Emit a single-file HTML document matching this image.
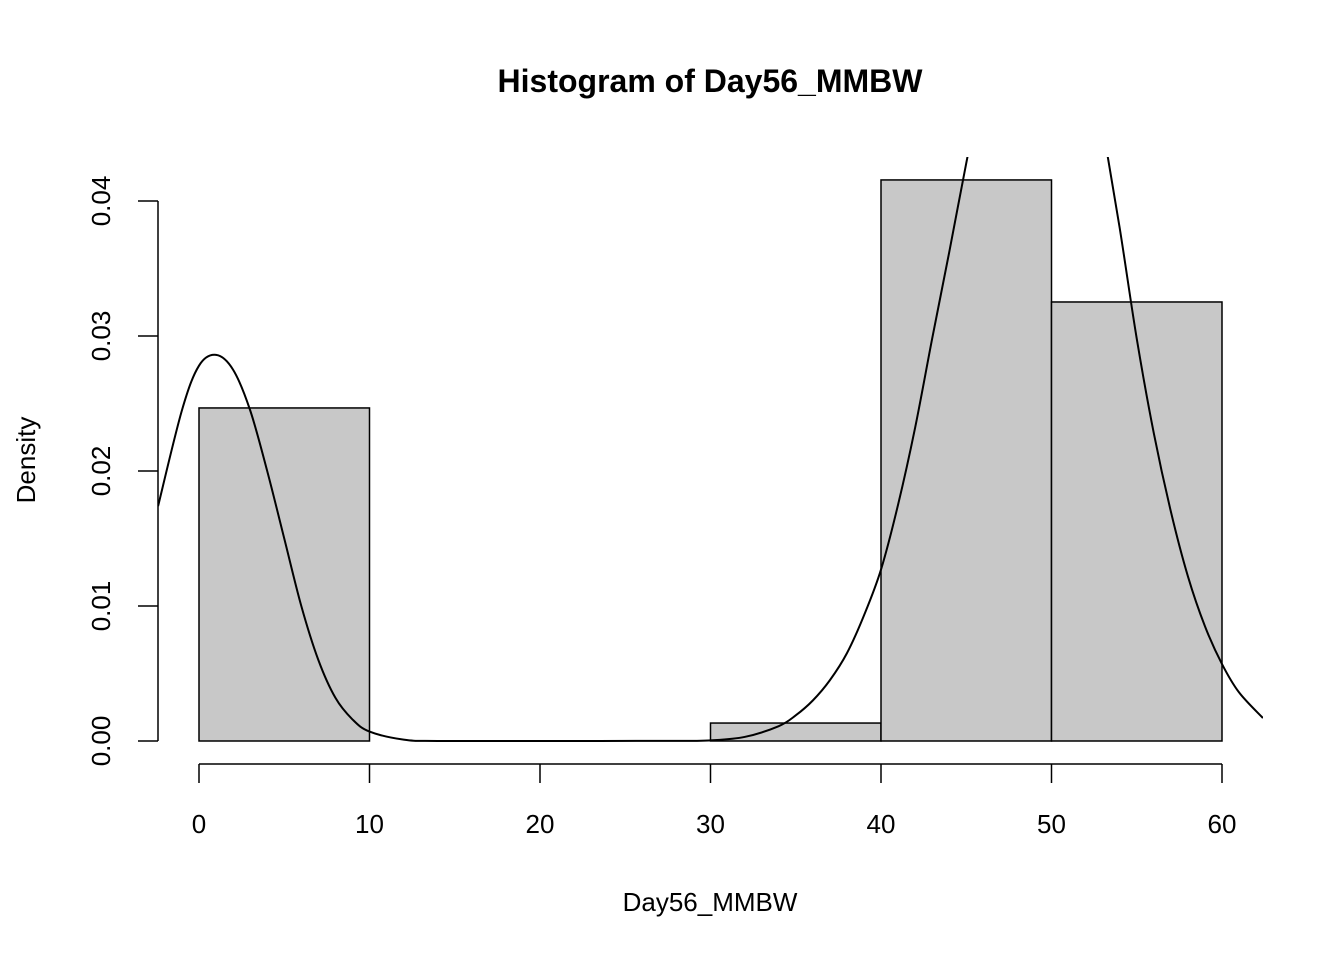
<!DOCTYPE html>
<html><head><meta charset="utf-8"><style>
html,body{margin:0;padding:0;background:#fff;}
svg text{font-family:"Liberation Sans",Arial,sans-serif;fill:#000;}
</style></head><body>
<svg id="chart" width="1344" height="960" xmlns="http://www.w3.org/2000/svg">
<defs><clipPath id="plotclip"><rect x="158" y="157" width="1105" height="605"/></clipPath></defs>
<text x="710" y="92" text-anchor="middle" font-size="32" font-weight="bold">Histogram of Day56_MMBW</text>
<text x="710" y="911" text-anchor="middle" font-size="26">Day56_MMBW</text>
<text transform="translate(35,460) rotate(-90)" text-anchor="middle" font-size="26">Density</text>
<g id="bars"></g>
<g id="xaxis"></g>
<g id="yaxis"></g>
<path id="curve" fill="none" stroke="#000" stroke-width="2" clip-path="url(#plotclip)"/>
</svg>
<script>
const binStarts = [0, 10, 20, 30, 40, 50];
const binEnds = [10, 20, 30, 40, 50, 60];
const densities = [0.02467, 0, 0, 0.00133, 0.04156, 0.03252];
const xTicks = [0, 10, 20, 30, 40, 50, 60];
const yTicks = [0, 0.01, 0.02, 0.03, 0.04];
const yTickLabels = ["0.00", "0.01", "0.02", "0.03", "0.04"];
const curveX = [-2.4,-1,0,1,2,3,4,5,6,7,8,9,10,12,14,20,28,30,32,34,35,36,37,38,39,40,41,42,43,44,45,46,48,50,52,53,54,55,56,57,58,59,60,61,62.4];
const curveY = [0.0174,0.0245,0.0278,0.0286,0.0275,0.0245,0.0200,0.0150,0.0100,0.0060,0.0032,0.0016,0.0007,0.0001,0,0,0.00001,0.00005,0.0003,0.0011,0.0019,0.0030,0.0045,0.0065,0.0093,0.0127,0.0175,0.0232,0.0298,0.0362,0.0428,0.0490,0.0580,0.0600,0.0530,0.0455,0.0380,0.0298,0.0228,0.0170,0.0122,0.0085,0.0057,0.0036,0.0017];

const NS = "http://www.w3.org/2000/svg";
function xs(v){ return 199 + (v - 0) * (1222 - 199) / 60; }
function ys(v){ return 741 - v * (741 - 201) / 0.04; }
function mk(tag, attrs, parent){ const e = document.createElementNS(NS, tag); for (const k in attrs) e.setAttribute(k, attrs[k]); parent.appendChild(e); return e; }

const bars = document.getElementById('bars');
binStarts.forEach((b, i) => {
  const x0 = xs(b), x1 = xs(binEnds[i]), y = ys(densities[i]);
  const r = mk('rect', {x: x0, y: y, width: x1 - x0, height: ys(0) - y, fill: '#c8c8c8', stroke: '#000', 'stroke-width': 1.5}, bars);
  
  
});

const xa = document.getElementById('xaxis');
const xl = mk('line', {x1: xs(xTicks[0]), x2: xs(xTicks[xTicks.length-1]), y1: 764, y2: 764, stroke: '#000', 'stroke-width': 1.5}, xa);


xTicks.forEach(t => {
  const tk = mk('line', {x1: xs(t), x2: xs(t), y1: 764, y2: 783, stroke: '#000', 'stroke-width': 1.5}, xa);
  
  
  const tx = mk('text', {x: xs(t), y: 833, 'text-anchor': 'middle', 'font-size': 26}, xa);
  tx.textContent = t;
  
  
});

const ya = document.getElementById('yaxis');
const yl = mk('line', {x1: 158, x2: 158, y1: ys(yTicks[0]), y2: ys(yTicks[yTicks.length-1]), stroke: '#000', 'stroke-width': 1.5}, ya);


yTicks.forEach((t, i) => {
  const tk = mk('line', {x1: 138, x2: 158, y1: ys(t), y2: ys(t), stroke: '#000', 'stroke-width': 1.5}, ya);
  
  
  const tx = mk('text', {transform: 'translate(110,' + ys(t) + ') rotate(-90)', 'text-anchor': 'middle', 'font-size': 26}, ya);
  tx.textContent = yTickLabels[i];
  
  
});

const pts = curveX.map((x, i) => [xs(x), ys(curveY[i])]);
let d = 'M' + pts[0][0] + ',' + pts[0][1];
for (let i = 0; i < pts.length - 1; i++) {
  const p0 = pts[i-1] || pts[i], p1 = pts[i], p2 = pts[i+1], p3 = pts[i+2] || p2;
  const c1 = [p1[0] + (p2[0]-p0[0])/6, p1[1] + (p2[1]-p0[1])/6];
  const c2 = [p2[0] - (p3[0]-p1[0])/6, p2[1] - (p3[1]-p1[1])/6];
  d += ' C' + c1[0] + ',' + c1[1] + ' ' + c2[0] + ',' + c2[1] + ' ' + p2[0] + ',' + p2[1];
}
document.getElementById('curve').setAttribute('d', d);
</script>
</body></html>
